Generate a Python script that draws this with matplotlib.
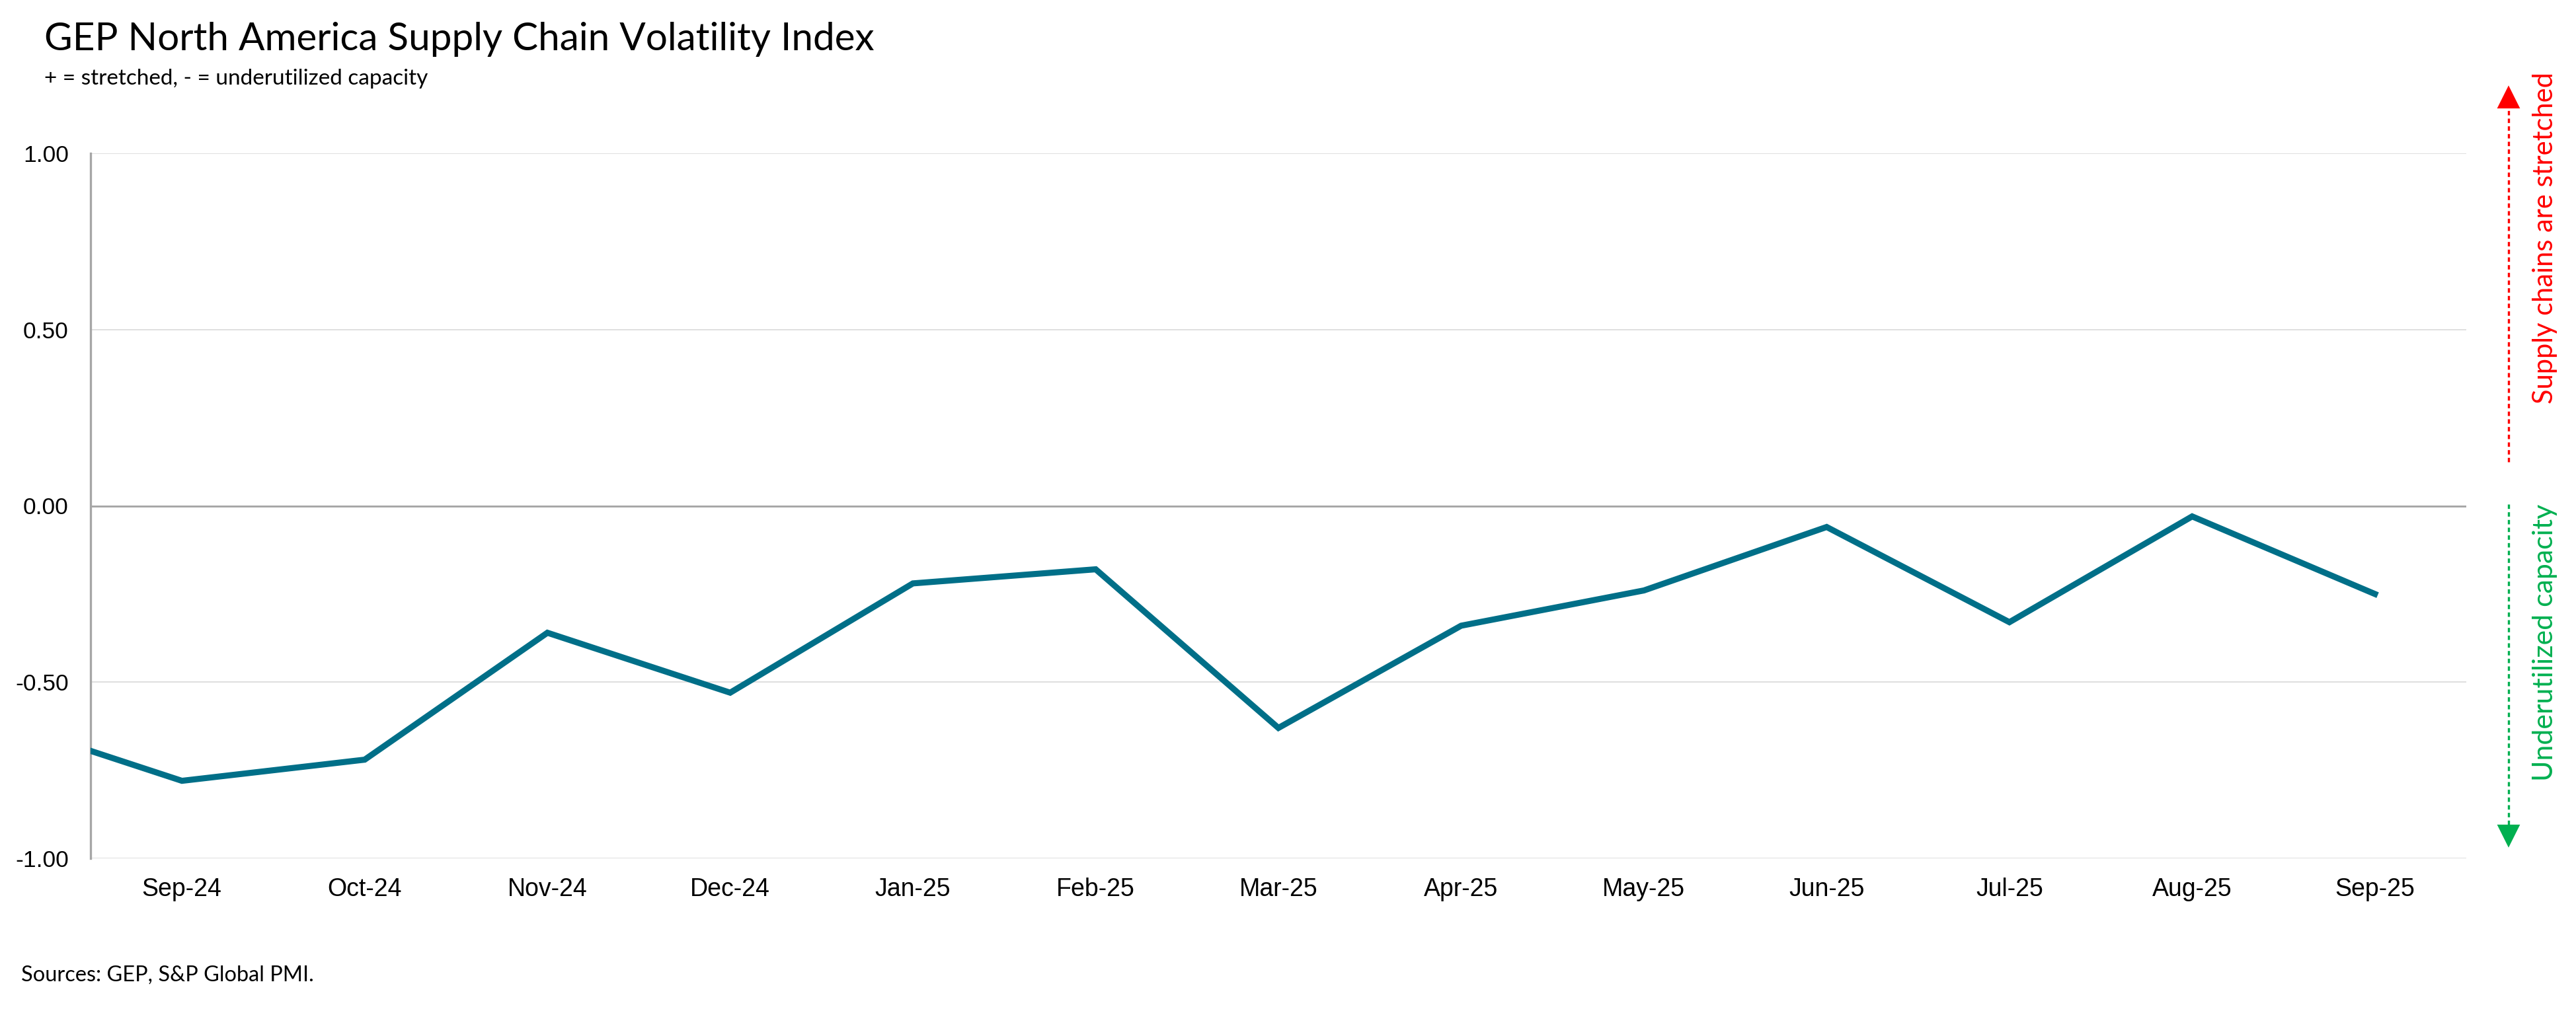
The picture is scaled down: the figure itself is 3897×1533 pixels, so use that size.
import matplotlib
matplotlib.use("Agg")
import matplotlib.pyplot as plt
from matplotlib.lines import Line2D

plt.rcParams['axes.unicode_minus'] = False

# monthly index values (Aug-24 is only partly visible at the left edge)
months = ['Aug-24', 'Sep-24', 'Oct-24', 'Nov-24', 'Dec-24', 'Jan-25', 'Feb-25',
          'Mar-25', 'Apr-25', 'May-25', 'Jun-25', 'Jul-25', 'Aug-25', 'Sep-25']
values = [-0.61, -0.78, -0.72, -0.36, -0.53, -0.22, -0.18,
          -0.63, -0.34, -0.24, -0.06, -0.33, -0.03, -0.25]
y_ticks = [-1.0, -0.5, 0.0, 0.5, 1.0]

line_color = '#006F88'
grid_color = '#D9D9D9'
axis_color = '#A6A6A6'

fig = plt.figure(figsize=(3897 / 300, 1533 / 300), dpi=300)
ax = fig.add_axes([137 / 3897, 1 - 1299 / 1533, (3731 - 137) / 3897, (1299 - 232) / 1533])

x = list(range(len(months)))
ax.plot(x, values, color=line_color, lw=2.2, solid_joinstyle='miter', zorder=3)

ax.set_xlim(0.5, len(months) - 0.5)
ax.set_ylim(-1.0, 1.0)
ax.set_yticks(y_ticks)
ax.set_yticklabels([f"{v:.2f}" for v in y_ticks])
ax.set_xticks(x[1:])
ax.set_xticklabels(months[1:])

for v in y_ticks:
    if v == 0:
        ax.axhline(v, color=axis_color, lw=0.7, zorder=2)
    else:
        ax.axhline(v, color=grid_color, lw=0.4, zorder=1)

for s in ['top', 'right', 'bottom']:
    ax.spines[s].set_visible(False)
ax.spines['left'].set_color(axis_color)
ax.spines['left'].set_linewidth(0.8)

ax.tick_params(axis='both', length=0, labelcolor='black')
ax.tick_params(axis='y', pad=8, labelsize=8.5)
ax.tick_params(axis='x', pad=7, labelsize=9)
for lab in ax.get_xticklabels() + ax.get_yticklabels():
    lab.set_family('Liberation Sans')

# titles and source
fig.text(67 / 3897, 1 - 76 / 1533, 'GEP North America Supply Chain Volatility Index',
         family='Lato', fontsize=14, va='baseline', ha='left')
fig.text(67 / 3897, 1 - 128 / 1533, '+ = stretched, - = underutilized capacity',
         family='Lato', fontsize=8, va='baseline', ha='left')
fig.text(32 / 3897, 1 - 1485 / 1533, 'Sources: GEP, S&P Global PMI.',
         family='Lato', fontsize=7.8, va='baseline', ha='left')

# side arrows
ax_x = 3795 / 3897
red = '#FF0000'
green = '#00B050'
fig.add_artist(Line2D([ax_x, ax_x], [1 - 699 / 1533, 1 - 158 / 1533],
                      transform=fig.transFigure, color=red, lw=0.8, ls=(0, (2, 1.5))))
fig.add_artist(Line2D([ax_x], [1 - 148 / 1533], transform=fig.transFigure,
                      marker='^', markersize=6.5, color=red, lw=0))
fig.add_artist(Line2D([ax_x, ax_x], [1 - 763 / 1533, 1 - 1252 / 1533],
                      transform=fig.transFigure, color=green, lw=0.8, ls=(0, (2, 1.5))))
fig.add_artist(Line2D([ax_x], [1 - 1264 / 1533], transform=fig.transFigure,
                      marker='v', markersize=6.5, color=green, lw=0))

fig.text(3850 / 3897, 1 - 360 / 1533, 'Supply chains are stretched', rotation=90,
         family='Lato', fontsize=10, color=red, ha='center', va='center')
fig.text(3850 / 3897, 1 - 972 / 1533, 'Underutilized capacity', rotation=90,
         family='Lato', fontsize=10.3, color=green, ha='center', va='center')

fig.savefig('out.png', dpi=300, facecolor='white')
